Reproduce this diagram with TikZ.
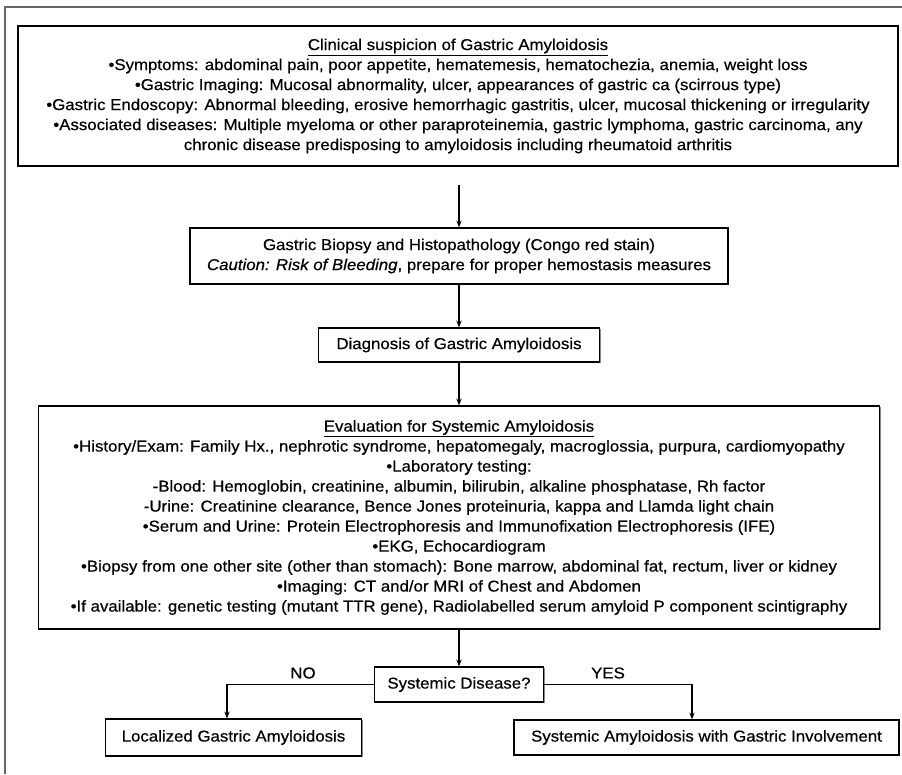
\documentclass[tikz,border=0pt]{standalone}
\usepackage{fontspec}
\setmainfont{Liberation Sans}[FakeStretch=1.07, FakeBold=0.5]
\usetikzlibrary{arrows.meta,shadows}
\begin{document}
\begin{tikzpicture}[x=0.75pt,y=-0.75pt,
  box/.style={draw=black, line width=1.1pt, fill=white, inner sep=0pt, align=center,
    font=\fontsize{11.8}{15}\selectfont,
    drop shadow={shadow xshift=1pt, shadow yshift=-1pt, fill=black!45, opacity=1}},
  conn/.style={line width=1.1pt, -{Stealth[length=5pt,width=4pt]}},
  lbl/.style={font=\fontsize{11.8}{12}\selectfont, inner sep=1pt}
]
\useasboundingbox (0,0) rectangle (902,774);
\draw[line width=1.2pt, black!60] (5,774) -- (5,7) -- (902,7);

\node[box, minimum width=660pt, minimum height=105pt] (b1) at (458,96) {%
\underline{Clinical suspicion of Gastric Amyloidosis}\\
•Symptoms: abdominal pain, poor appetite, hematemesis, hematochezia, anemia, weight loss\\
•Gastric Imaging: Mucosal abnormality, ulcer, appearances of gastric ca (scirrous type)\\
•Gastric Endoscopy: Abnormal bleeding, erosive hemorrhagic gastritis, ulcer, mucosal thickening or irregularity\\
•Associated diseases: Multiple myeloma or other paraproteinemia, gastric lymphoma, gastric carcinoma, any\\
chronic disease predisposing to amyloidosis including rheumatoid arthritis};

\node[box, minimum width=403.5pt, minimum height=42pt] (b2) at (459,256) {%
Gastric Biopsy and Histopathology (Congo red stain)\\
\textit{Caution: Risk of Bleeding}, prepare for proper hemostasis measures};

\node[box, minimum width=210.75pt, minimum height=25.5pt] (b3) at (459,345) {Diagnosis of Gastric Amyloidosis};

\node[box, minimum width=630.75pt, minimum height=167.25pt] (b4) at (459,517.5) {%
\underline{Evaluation for Systemic Amyloidosis}\\
•History/Exam: Family Hx., nephrotic syndrome, hepatomegaly, macroglossia, purpura, cardiomyopathy\\
•Laboratory testing:\\
-Blood: Hemoglobin, creatinine, albumin, bilirubin, alkaline phosphatase, Rh factor\\
-Urine: Creatinine clearance, Bence Jones proteinuria, kappa and Llamda light chain\\
•Serum and Urine: Protein Electrophoresis and Immunofixation Electrophoresis (IFE)\\
•EKG, Echocardiogram\\
•Biopsy from one other site (other than stomach): Bone marrow, abdominal fat, rectum, liver or kidney\\
•Imaging: CT and/or MRI of Chest and Abdomen\\
•If available: genetic testing (mutant TTR gene), Radiolabelled serum amyloid P component scintigraphy};

\node[box, minimum width=126.75pt, minimum height=26.25pt] (b5) at (459,684.5) {Systemic Disease?};
\node[box, minimum width=192pt, minimum height=27.75pt] (b6) at (233.5,737.5) {Localized Gastric Amyloidosis};
\node[box, minimum width=288.75pt, minimum height=26.25pt] (b7) at (706.5,737.5) {Systemic Amyloidosis with Gastric Involvement};

\coordinate (a1) at (459,185);
\coordinate (nl) at (227,684.5);
\coordinate (yr) at (692,684.5);

\draw[conn] (a1) -- (b2.north);
\draw[conn] (b2.south) -- (b3.north);
\draw[conn] (b3.south) -- (b4.north);
\draw[conn] (b4.south) -- (b5.north);
\draw[conn] (b5.west) -- (nl) -- (b6.north -| nl);
\draw[conn] (b5.east) -- (yr) -- (b7.north -| yr);

\node[lbl] (no) at (303,673) {NO};
\node[lbl] (yes) at (608,673) {YES};
\end{tikzpicture}
\end{document}
